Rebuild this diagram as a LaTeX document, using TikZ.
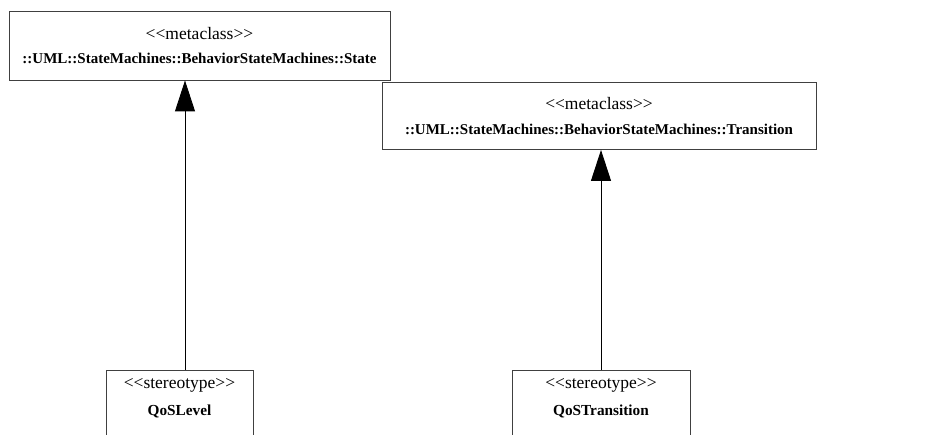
\documentclass[tikz,border=0pt]{standalone}
\usepackage{fontspec}
\setmainfont{Liberation Serif}[Ligatures=TeXOff]
\usetikzlibrary{arrows.meta,positioning}

% keep << and >> as two characters, set a bit larger
\newcommand{\guil}[1]{{\fontsize{17.5}{25}\selectfont<\kern0pt<#1>\kern0pt>}}

\begin{document}
\begin{tikzpicture}[
    x=1pt, y=-1pt,
    % 方框與繼承箭頭樣式
    metabox/.style={draw=black!75, line width=0.9pt, align=center, inner sep=0pt,
        font=\fontsize{15}{24.5}\selectfont},
    stereobox/.style={draw=black!75, line width=0.9pt, align=center, anchor=north,
        inner xsep=0pt, inner ysep=8.5pt, text depth=90pt,
        font=\fontsize{15.3}{27}\selectfont},
    generalize/.style={-{Triangle[length=31pt,width=20pt]}, line width=0.9pt},
]
    % --- 畫布大小 ---
    \def\W{938}
    \def\H{435}
    \useasboundingbox (0,0) rectangle (\W,\H);
    \clip (0,0) rectangle (\W,\H);

    % --- 1. Metaclass 方框 ---
    \node[metabox, minimum width=381pt, minimum height=69pt] (stateMeta) at (199.5,45.5)
        {\guil{metaclass}\\\textbf{::UML::StateMachines::BehaviorStateMachines::State}};
    \node[metabox, minimum width=434pt, minimum height=67pt] (transMeta) at (599,116)
        {\guil{metaclass}\\\textbf{::UML::StateMachines::BehaviorStateMachines::Transition}};

    % --- 2. Stereotype 方框 (下緣超出畫面) ---
    \node[stereobox, minimum width=147pt] (qosLevel) at (179.5,370)
        {\guil{stereotype}\\\textbf{QoSLevel}};
    \node[stereobox, minimum width=178pt] (qosTrans) at (601,370)
        {\guil{stereotype}\\\textbf{QoSTransition}};

    % --- 3. 繼承箭頭 ---
    \coordinate (lvlTop) at ([xshift=5.5pt]qosLevel.north);
    \draw[generalize] (lvlTop) -- (lvlTop |- stateMeta.south);
    \draw[generalize] (qosTrans.north) -- (qosTrans.north |- transMeta.south);

\end{tikzpicture}
\end{document}
